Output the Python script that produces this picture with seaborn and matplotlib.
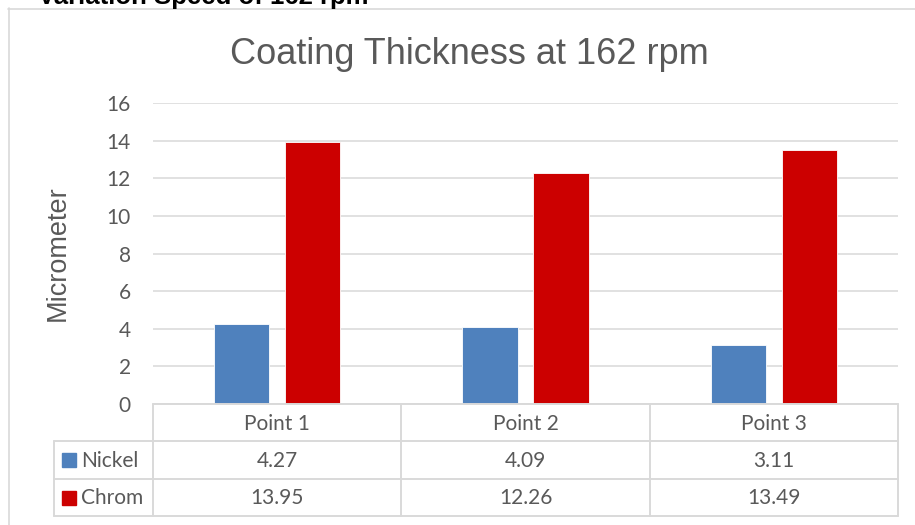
import pandas as pd
import seaborn as sns
import matplotlib.pyplot as plt
from matplotlib.lines import Line2D

# data
points = ['Point 1', 'Point 2', 'Point 3']
nickel = [4.27, 4.09, 3.11]
chrom = [13.95, 12.26, 13.49]
series_names = ['Nickel', 'Chrom']
colors = ['#4F81BD', '#CC0000']
y_ticks = [0, 2, 4, 6, 8, 10, 12, 14, 16]

df = pd.DataFrame({
    'point': points * 2,
    'metal': ['Nickel'] * 3 + ['Chrom'] * 3,
    'value': nickel + chrom,
})

sns.set_style('white')
txt = '#595959'
grid = '#d9d9d9'
W, H = 915, 525
fs = 15

fig = plt.figure(figsize=(W / 100, H / 100), dpi=100)

# plot area in pixels
left, right, top, bottom = 153, 898, 103, 404
ax = fig.add_axes([left / W, 1 - bottom / H, (right - left) / W, (bottom - top) / H])

sns.barplot(data=df, x='point', y='value', hue='metal', palette=colors,
            width=0.572, gap=0.225, saturation=1, edgecolor='white', linewidth=0.6,
            ax=ax, legend=False, zorder=3)

ax.set_xlim(-0.5, 2.5)
ax.set_ylim(0, 16)
ax.set_yticks(y_ticks)
ax.set_yticklabels([str(t) for t in y_ticks], family='Lato', fontsize=fs, color=txt)
ax.tick_params(axis='y', length=0, pad=16)
ax.set_xticks([])
ax.set_xlabel('')
ax.set_ylabel('')
ax.grid(axis='y', color=grid, linewidth=1.1, zorder=0)
ax.set_axisbelow(True)
for s in ax.spines.values():
    s.set_visible(False)

# overlay in pixel coordinates for table, border and texts
ov = fig.add_axes([0, 0, 1, 1], facecolor='none')
ov.set_xlim(0, W)
ov.set_ylim(H, 0)
ov.axis('off')

def hline(x0, x1, y, lw=1.4):
    ov.add_line(Line2D([x0, x1], [y, y], color=grid, linewidth=lw))

def vline(x, y0, y1, lw=1.4):
    ov.add_line(Line2D([x, x], [y0, y1], color=grid, linewidth=lw))

# chart border
hline(8, W, 8.5, 1.2)
vline(8.5, 8, H, 1.2)

# data table
cell_w = (right - left) / len(points)
leg_left = 54
row1, row2, row3 = 441, 479, 516
hline(left, right, bottom)
hline(leg_left, right, row1)
hline(leg_left, right, row2)
hline(leg_left, right, row3)
for i in range(len(points) + 1):
    vline(left + i * cell_w, bottom, row3)
vline(leg_left, row1, row3)

for i, p in enumerate(points):
    cx = left + (i + 0.5) * cell_w
    ov.text(cx, (bottom + row1) / 2 + 1, p, ha='center', va='center',
            family='Lato', fontsize=fs, color=txt)
    ov.text(cx, (row1 + row2) / 2 + 1, f'{nickel[i]:.2f}', ha='center', va='center',
            family='Lato', fontsize=fs, color=txt)
    ov.text(cx, (row2 + row3) / 2 + 1, f'{chrom[i]:.2f}', ha='center', va='center',
            family='Lato', fontsize=fs, color=txt)

for name, col, (y0, y1) in zip(series_names, colors, [(row1, row2), (row2, row3)]):
    cy = (y0 + y1) / 2
    ov.add_patch(plt.Rectangle((62, cy - 7), 14, 14, color=col))
    ov.text(81, cy + 1, name, ha='left', va='center',
            family='Lato', fontsize=fs, color=txt)

# titles
ov.text(469, 64, 'Coating Thickness at 162 rpm', ha='center', va='baseline',
        family='Liberation Sans', fontsize=26, color=txt)
ov.text(58, 253, 'Micrometer', ha='center', va='center', rotation=90,
        family='Liberation Sans', fontsize=19.5, color=txt)
ov.text(38, 4, 'Variation Speed of 162 rpm', ha='left', va='baseline',
        family='Liberation Sans', fontsize=18.5, fontweight='bold', color='black')

fig.savefig('out.png', dpi=100)
